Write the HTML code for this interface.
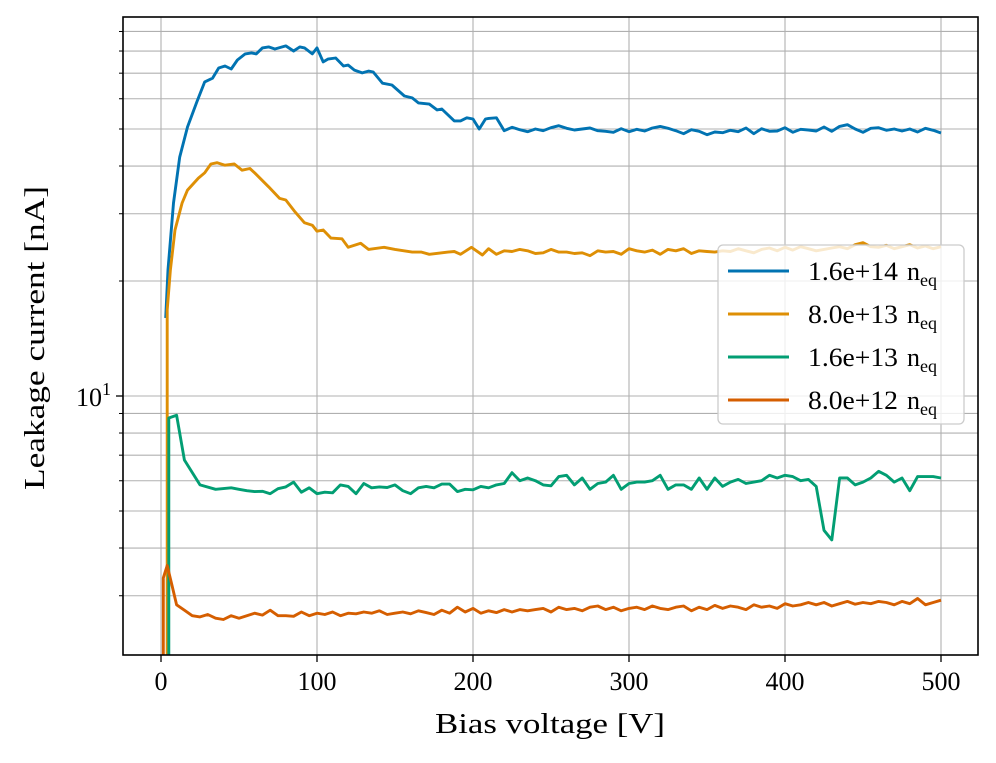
<!DOCTYPE html>
<html><head><meta charset="utf-8">
<style>
html,body{margin:0;padding:0;background:#fff;}
svg{display:block;font-family:"Liberation Serif",serif;}
</style></head>
<body>
<svg id="chart" width="996" height="763" viewBox="0 0 996 763" xmlns="http://www.w3.org/2000/svg">
<clipPath id="plotclip"><rect x="123" y="17" width="855" height="638"/></clipPath>
</svg>
<script>
// ---- data ----
const xTicks = [0,100,200,300,400,500];
const blueHeadV = [3,4.5,8,12,17,23,28,33,37,41,45,49,54,58,61,65,69,73,80,85,89,92,97,100,104,107,112,117,120,124,129,133,136,142,148,156,161,165,172,177,180,188,192,196,200,204,208];
const blueHeadI = [16,21.4,32,42.2,50.6,58.9,66.4,67.9,72.2,73.1,71.8,75.8,78.6,79.1,78.6,81.5,82.0,81.0,82.5,80.0,82.0,81.5,78.6,81.5,74.9,76.2,76.7,73.1,73.5,71.3,70.1,70.9,70.5,65.9,65.2,61.0,60.3,58.5,58.1,56.1,56.4,52.5,52.5,53.5,53.1,50.0,53.1];
const blueTailStart = 210;
const blueTailI = [53.3,53.5,49.5,50.5,49.8,49.2,50.0,49.5,50.4,51.0,50.2,49.7,50.0,50.3,49.5,49.3,49.0,50.1,49.2,49.9,49.4,50.3,50.8,50.2,49.5,48.6,49.8,49.3,48.3,49.1,48.9,49.6,49.2,50.3,48.6,50.1,49.3,49.4,50.4,49.0,49.9,49.7,49.4,50.6,49.3,50.8,51.3,50.0,49.0,50.2,50.4,49.6,50.0,49.4,50.0,49.1,50.2,49.6,48.8];
const orangeHeadV = [4,4,6,9,13.5,17,24,28,32,36,41,47,52,57,60,69,76,80,86,92,97,100,104,109,116,120,128,133,143,150,161,167,172,184,188,192,199,206];
const orangeHeadI = [2,16.8,21.4,27.2,32.0,34.6,37.2,38.4,40.5,40.8,40.2,40.5,39.0,39.4,38.4,35.3,32.9,32.6,30.3,28.4,28.0,27.0,27.2,25.9,25.8,24.5,25.1,24.2,24.5,24.2,23.8,23.8,23.5,23.8,23.9,23.5,24.5,23.4];
const orangeTailStart = 210;
const orangeTailI = [24.3,23.5,24.0,23.9,24.2,24.0,23.6,23.7,24.2,23.8,23.8,23.6,23.7,23.3,24.0,23.8,23.9,23.5,24.3,24.0,23.8,24.1,23.5,24.2,24.0,24.3,23.6,24.0,23.9,23.8,24.0,23.9,24.3,24.0,23.7,24.2,24.4,24.0,24.5,24.1,24.6,24.3,24.0,24.2,24.4,24.6,24.3,24.9,25.2,24.6,24.5,24.8,24.3,24.6,24.9,24.4,24.7,24.3,24.6];
const greenHeadV = [5,5,10,15,25,35,45];
const greenHeadI = [1,8.76,8.9,6.8,5.85,5.7,5.75];
const greenTailStart = 50;
const greenTailI = [5.7,5.65,5.62,5.63,5.55,5.72,5.78,5.95,5.6,5.75,5.55,5.6,5.58,5.85,5.8,5.55,5.9,5.75,5.78,5.76,5.85,5.65,5.55,5.75,5.8,5.75,5.88,5.88,5.62,5.7,5.68,5.8,5.75,5.85,5.9,6.3,6.0,6.1,6.0,5.85,5.82,6.15,6.2,5.85,6.1,5.7,5.9,5.95,6.2,5.7,5.9,5.95,5.95,6.0,6.2,5.7,5.85,5.85,5.7,6.1,5.7,6.1,5.8,5.95,6.05,5.9,5.95,6.0,6.2,6.1,6.2,6.15,6.0,6.05,5.8,4.45,4.2,6.1,6.1,5.85,5.95,6.1,6.35,6.2,5.95,6.1,5.65,6.15,6.15,6.15,6.1];
const redHeadV = [1.5,1.5,4,7,10,15];
const redHeadI = [1,3.34,3.6,3.2,2.84,2.75];
const redTailStart = 20;
const redTailI = [2.66,2.64,2.68,2.62,2.6,2.66,2.62,2.66,2.7,2.67,2.75,2.66,2.66,2.65,2.72,2.66,2.7,2.68,2.72,2.66,2.7,2.69,2.72,2.7,2.74,2.68,2.7,2.72,2.69,2.74,2.71,2.68,2.75,2.7,2.8,2.72,2.78,2.7,2.74,2.71,2.76,2.72,2.76,2.74,2.76,2.78,2.72,2.8,2.76,2.78,2.74,2.8,2.82,2.76,2.8,2.74,2.78,2.8,2.76,2.82,2.78,2.76,2.8,2.82,2.74,2.8,2.76,2.83,2.78,2.82,2.8,2.76,2.84,2.8,2.82,2.78,2.86,2.82,2.84,2.88,2.84,2.88,2.82,2.86,2.9,2.85,2.88,2.86,2.9,2.88,2.84,2.9,2.86,2.95,2.84,2.88,2.92];
const legendLabels = ["1.6e+14","8.0e+13","1.6e+13","8.0e+12"];
const seriesColors = ["#0173b2","#de8f05","#029e73","#d55e00"];

// ---- axes ----
const L=123,R=978,T=17,B=655;
function xs(v){return 161 + v*1.56;}
function ys(v){return 396 - 382*(Math.log10(v)-1);}
const NS="http://www.w3.org/2000/svg";
const svg=document.getElementById('chart');
function mk(tag,attrs,parent){const e=document.createElementNS(NS,tag);for(const k in attrs)e.setAttribute(k,attrs[k]);(parent||svg).appendChild(e);return e;}

const grid=mk('g',{});


xTicks.forEach(t=>{mk('line',{x1:xs(t),x2:xs(t),y1:T,y2:B,stroke:'#b0b0b0','stroke-width':1.1},grid);});
const yGridVals=[];
[1,10].forEach(d=>{for(let m=1;m<10;m++)yGridVals.push(m*d);});
yGridVals.forEach(v=>{const y=ys(v);if(y>T&&y<B)mk('line',{x1:L,x2:R,y1:y,y2:y,stroke:'#b0b0b0','stroke-width':1.1},grid);});

const seriesDefs=[
 [blueHeadV,blueHeadI,blueTailStart,blueTailI,'series-1.6e14'],
 [orangeHeadV,orangeHeadI,orangeTailStart,orangeTailI,'series-8.0e13'],
 [greenHeadV,greenHeadI,greenTailStart,greenTailI,'series-1.6e13'],
 [redHeadV,redHeadI,redTailStart,redTailI,'series-8.0e12']
];
seriesDefs.forEach((s,i)=>{
  const pts=[];
  s[0].forEach((v,j)=>pts.push([xs(v),ys(s[1][j])]));
  s[3].forEach((c,j)=>pts.push([xs(s[2]+5*j),ys(c)]));
  const p=mk('polyline',{points:pts.map(p=>p[0].toFixed(1)+','+p[1].toFixed(1)).join(' '),fill:'none',stroke:seriesColors[i],'stroke-width':2.9,'stroke-linejoin':'round','clip-path':'url(#plotclip)'});
  
  
});

const fr=mk('rect',{x:L,y:T,width:R-L,height:B-T,fill:'none',stroke:'#000','stroke-width':1.6});



xTicks.forEach(t=>{
  mk('line',{x1:xs(t),x2:xs(t),y1:B,y2:B+7,stroke:'#000','stroke-width':1.3});
  const tx=mk('text',{x:xs(t),y:B+35,'font-size':26,'text-anchor':'middle',fill:'#000'});
  tx.textContent=t;
  
  
});
yGridVals.forEach(v=>{const y=ys(v);if(y>T&&y<B){const major=(v===10);mk('line',{x1:L-(major?7:4),x2:L,y1:y,y2:y,stroke:'#000','stroke-width':major?1.3:1});}});
const yl=mk('text',{x:L-12,y:ys(10)+10,'font-size':26,'text-anchor':'end',fill:'#000'});
yl.innerHTML='10<tspan font-size="18" dy="-11">1</tspan>';



const xt=mk('text',{x:435,y:733,'font-size':28,fill:'#000',textLength:230,lengthAdjust:'spacingAndGlyphs'});
xt.textContent='Bias voltage [V]';


const yt=mk('text',{x:0,y:0,'font-size':28,fill:'#000',textLength:304,lengthAdjust:'spacingAndGlyphs',transform:'translate(44,490) rotate(-90)'});
yt.textContent='Leakage current [nA]';



const lg=mk('g',{});


mk('rect',{x:718,y:245,width:246,height:179,rx:5,fill:'#fff','fill-opacity':0.8,stroke:'#cccccc','stroke-width':1.3},lg);
legendLabels.forEach((lab,i)=>{
  const y=271+i*43;
  const ent=mk('g',{},lg);
  
  
  mk('line',{x1:728,x2:789,y1:y,y2:y,stroke:seriesColors[i],'stroke-width':2.9},ent);
  const t=mk('text',{x:808,y:y+9,'font-size':26,fill:'#000',textLength:90,lengthAdjust:'spacingAndGlyphs'},ent);
  t.textContent=lab;
  const t2=mk('text',{x:907,y:y+9,'font-size':26,fill:'#000'},ent);
  t2.innerHTML='n<tspan font-size="18" dy="6">eq</tspan>';
});
</script>
</body></html>
